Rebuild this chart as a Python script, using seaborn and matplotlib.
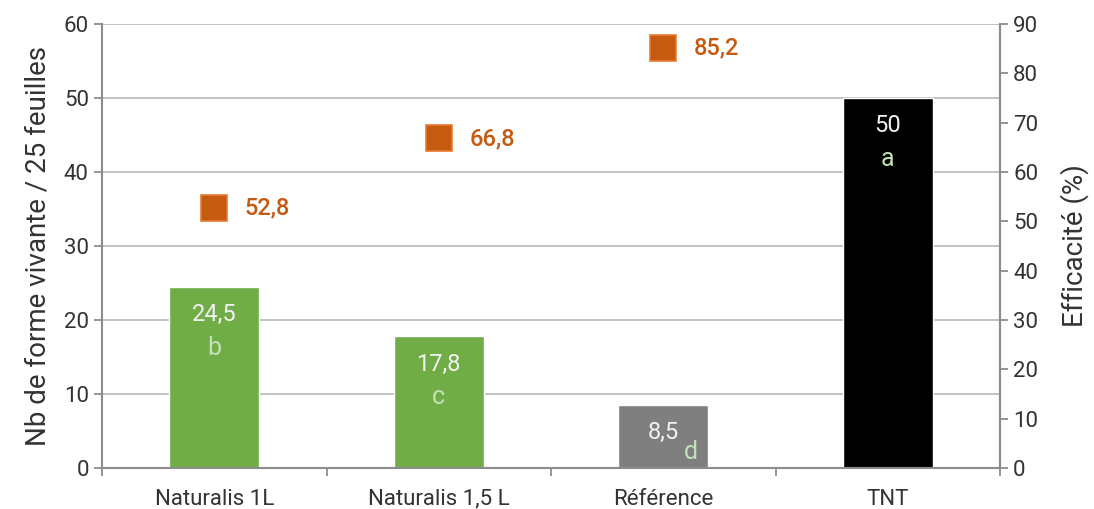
import matplotlib
matplotlib.use('Agg')
import matplotlib.pyplot as plt
import numpy as np
import pandas as pd
import seaborn as sns

# data
categories = ['Naturalis 1L', 'Naturalis 1,5 L', 'Référence', 'TNT']
vivants = [24.5, 17.8, 8.5, 50]
vivants_txt = ['24,5', '17,8', '8,5', '50']
lettres = ['b', 'c', 'd', 'a']
efficacite = [52.8, 66.8, 85.2]
efficacite_txt = ['52,8', '66,8', '85,2']
couleurs = ['#70AD47', '#70AD47', '#7F7F7F', '#000000']

sns.set_style('white')
plt.rcParams['font.family'] = ['Roboto', 'DejaVu Sans']

df = pd.DataFrame({'cat': categories, 'val': vivants})

fig = plt.figure(figsize=(10.94, 5.09), dpi=100)
ax = fig.add_axes([102 / 1094, 1 - 468 / 509, 898 / 1094, 444 / 509])

sns.barplot(data=df, x='cat', y='val', hue='cat', palette=couleurs, order=categories,
            width=0.40, legend=False, saturation=1, ax=ax, zorder=2)
ax.set_xlim(-0.5, 3.5)
ax.set_ylim(0, 60)
ax.set_yticks(np.arange(0, 61, 10))
ax.grid(axis='y', color='#BDBDBD', linewidth=1.3, zorder=0)
ax.set_axisbelow(True)
ax.set_xlabel('')
txt_col = '#333333'
ax.set_ylabel('Nb de forme vivante / 25 feuilles', fontsize=20, color=txt_col, labelpad=9)

gris = '#8C8C8C'
for s in ['left', 'bottom', 'right']:
    ax.spines[s].set_color(gris)
    ax.spines[s].set_linewidth(1.5)
ax.spines['top'].set_visible(False)

ax.tick_params(axis='y', direction='out', length=6, width=1.3, color=gris, labelsize=16,
               labelcolor=txt_col, left=True)
ax.set_xticks(np.arange(len(categories)))
ax.set_xticklabels(categories)
ax.set_xticks(np.arange(-0.5, len(categories)), minor=True)
ax.tick_params(axis='x', which='major', length=0, labelsize=16, labelcolor=txt_col, pad=15)
ax.tick_params(axis='x', which='minor', direction='out', length=6, width=1.3, color=gris, bottom=True)

# labels in bars
for i, (v, txt, let) in enumerate(zip(vivants, vivants_txt, lettres)):
    if i == 2:
        ax.annotate(txt, (i, v), xytext=(0, -20), textcoords='offset points', ha='center',
                    va='center', fontsize=17, color='#F2F2F2', zorder=5)
        ax.annotate(let, (i, v), xytext=(20, -34), textcoords='offset points', ha='center',
                    va='center', fontsize=18, color='#C5E0B4', zorder=5)
    else:
        ax.annotate(txt, (i, v), xytext=(0, -20), textcoords='offset points', ha='center',
                    va='center', fontsize=17, color='#F2F2F2', zorder=5)
        ax.annotate(let, (i, v), xytext=(0, -44), textcoords='offset points', ha='center',
                    va='center', fontsize=18, color='#C5E0B4', zorder=5)

# right axis: efficacite
ax2 = ax.twinx()
ax2.set_ylim(0, 90)
ax2.set_yticks(np.arange(0, 91, 10))
x_eff = np.arange(len(efficacite))
ax2.plot(x_eff, efficacite, linestyle='none', marker='s', markersize=19,
         markerfacecolor='#C55A11', markeredgecolor='#E97A32', markeredgewidth=1.2, zorder=6)
for i, (v, txt) in enumerate(zip(efficacite, efficacite_txt)):
    ax2.annotate(txt, (i, v), xytext=(22, 0), textcoords='offset points', ha='left',
                 va='center', fontsize=17, color='#C55A11', fontweight='medium')
ax2.set_ylabel('Efficacité (%)', fontsize=20, color=txt_col, labelpad=16)
ax2.tick_params(axis='y', direction='out', length=6, width=1.3, color=gris, labelsize=16,
                labelcolor=txt_col, right=True)
for s in ['left', 'bottom', 'top']:
    ax2.spines[s].set_visible(False)
ax2.spines['right'].set_color(gris)
ax2.spines['right'].set_linewidth(1.5)

fig.savefig('out.png', dpi=100)
